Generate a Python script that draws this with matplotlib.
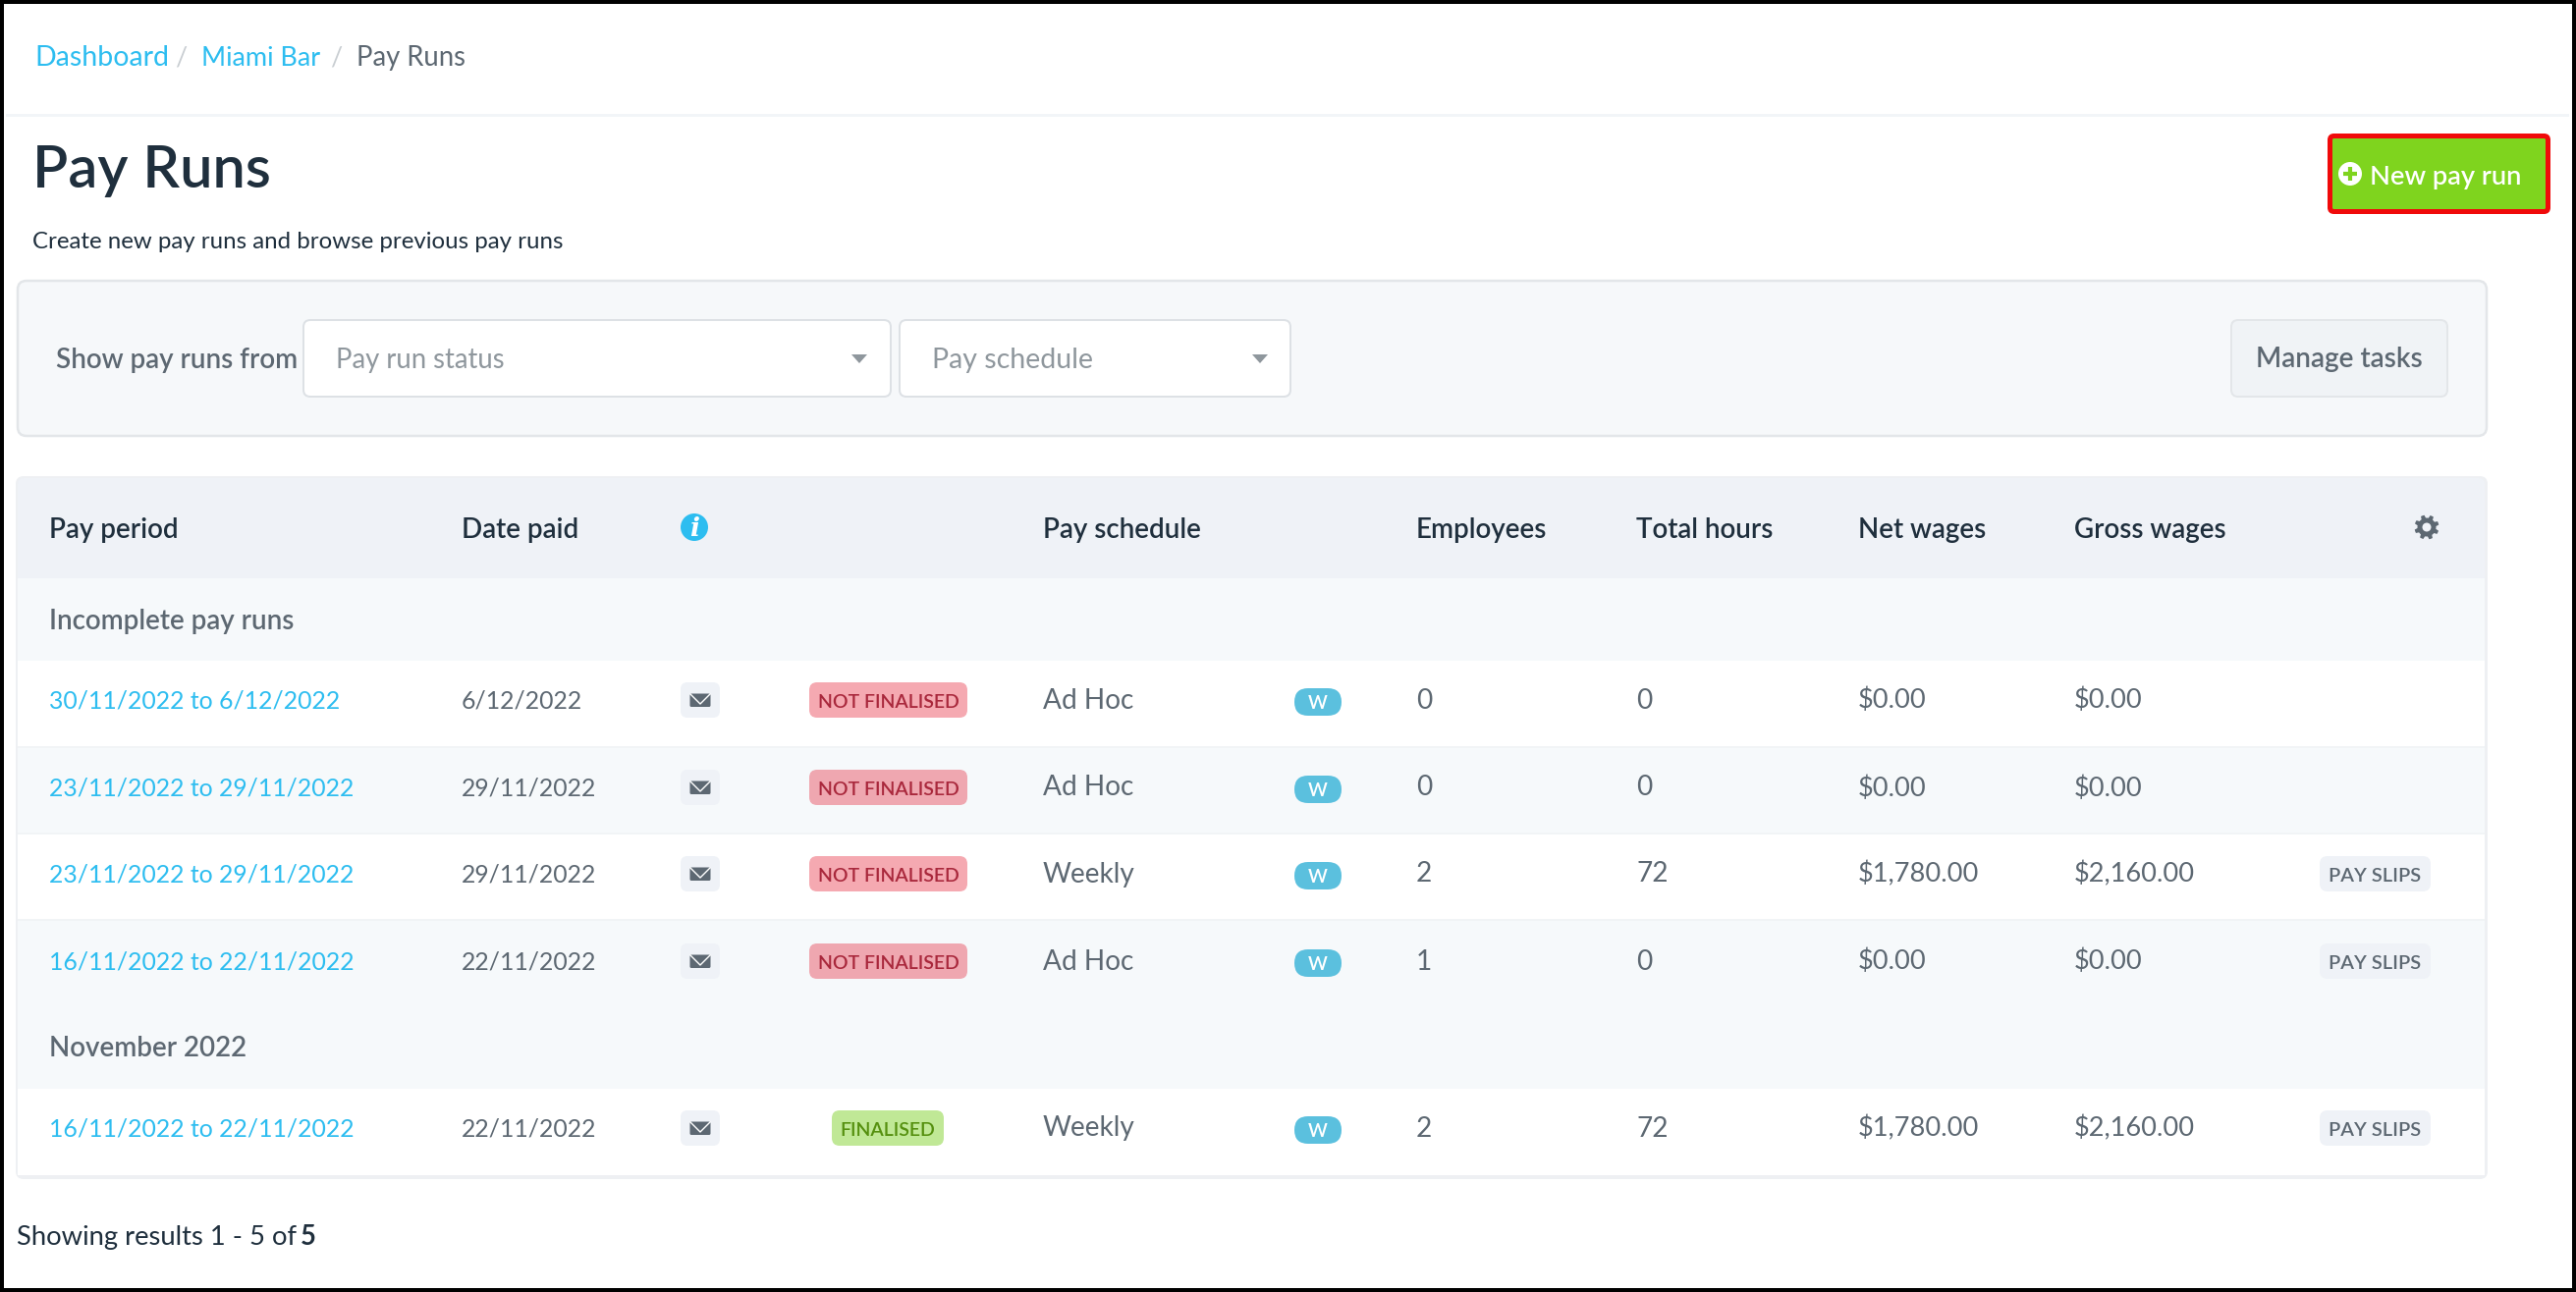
# -*- coding: utf-8 -*-
"""Pay Runs screen redrawn in matplotlib, axes run in image pixels."""
import numpy as np
import matplotlib
matplotlib.use("Agg")
import matplotlib.pyplot as plt
from matplotlib.patches import FancyBboxPatch, Rectangle, Circle, Polygon

W, H = 2623, 1316

# --- table content ---
HEADERS = ["Pay period", "Date paid", "Pay schedule", "Employees", "Total hours", "Net wages", "Gross wages"]
PERIODS = ["30/11/2022 to 6/12/2022", "23/11/2022 to 29/11/2022", "23/11/2022 to 29/11/2022",
           "16/11/2022 to 22/11/2022", "16/11/2022 to 22/11/2022"]
DATES = ["6/12/2022", "29/11/2022", "29/11/2022", "22/11/2022", "22/11/2022"]
STATUS = ["NOT FINALISED", "NOT FINALISED", "NOT FINALISED", "NOT FINALISED", "FINALISED"]
SCHEDULES = ["Ad Hoc", "Ad Hoc", "Weekly", "Ad Hoc", "Weekly"]
EMPLOYEES = ["0", "0", "2", "1", "2"]
HOURS = ["0", "0", "72", "0", "72"]
NET = ["$0.00", "$0.00", "$1,780.00", "$0.00", "$1,780.00"]
GROSS = ["$0.00", "$0.00", "$2,160.00", "$0.00", "$2,160.00"]
SLIPS = [False, False, True, True, True]
SECTIONS = ["Incomplete pay runs", "November 2022"]

# --- palette ---
LINK = "#2dbdf0"
GREY = "#5d6872"
DARK = "#1f2f3d"
PALE = "#8f979d"
HEAD_BG = "#eff2f7"
TINT = "#f6f9fb"
EDGE = "#e3e6e9"

plt.rcParams["font.family"] = ["Lato", "DejaVu Sans"]

fig = plt.figure(figsize=(W / 100, H / 100), dpi=100, facecolor="black")
ax = fig.add_axes([0, 0, 1, 1])
ax.set_xlim(0, W)
ax.set_ylim(H, 0)
ax.axis("off")


def label(x, y, s, px, color=GREY, weight="normal", ha="left", **kw):
    # y is the baseline, px the font size in pixels
    ax.text(x, y, s, fontsize=px * 0.72, color=color, fontweight=weight, ha=ha, va="baseline", **kw)


def rect(x0, y0, x1, y1, color):
    ax.add_patch(Rectangle((x0, y0), x1 - x0, y1 - y0, facecolor=color, edgecolor="none"))


def rbox(x0, y0, x1, y1, r, color, edge="none", lw=0):
    ax.add_patch(FancyBboxPatch((x0, y0), x1 - x0, y1 - y0,
                                boxstyle=f"round,pad=0,rounding_size={r}",
                                facecolor=color, edgecolor=edge, linewidth=lw * 0.72))


def caret(x, y):
    ax.add_patch(Polygon([(x - 8, y - 4), (x + 8, y - 4), (x, y + 5)], facecolor=PALE, edgecolor="none"))


def envelope(cx, cy):
    rbox(cx - 20, cy - 18, cx + 20, cy + 18, 7, HEAD_BG)
    rbox(cx - 10.5, cy - 6.5, cx + 10.5, cy + 7, 1.5, GREY)
    ax.plot([cx - 10, cx, cx + 10], [cy - 6, cy + 4, cy - 6], color="white", lw=1.0)


def gear(cx, cy, r=12.5):
    ang = np.linspace(0, 2 * np.pi, 64, endpoint=False)
    rad = np.where((np.arange(64) % 8) < 4, r, r * 0.76)
    ax.add_patch(Polygon(np.c_[cx + rad * np.sin(ang + 0.2), cy + rad * np.cos(ang + 0.2)],
                         facecolor=GREY, edgecolor="none"))
    ax.add_patch(Circle((cx, cy), r * 0.36, facecolor=HEAD_BG, edgecolor="none"))


# page frame
rect(4, 4, 2619, 1312, "white")
rect(6, 116, 2616, 119, "#f2f5f8")

# breadcrumb
label(35, 67, "Dashboard", 28.5, LINK)
label(178, 67, "/", 27, "#c9ced2")
label(205, 67, "Miami Bar", 27, LINK)
label(336, 67, "/", 27, "#c9ced2")
label(363, 67, "Pay Runs", 27.5, GREY)

# title
label(33, 191, "Pay Runs", 59.5, DARK, "semibold")
label(33, 253, "Create new pay runs and browse previous pay runs", 24, DARK)

# new pay run button
rbox(2372.5, 138.5, 2594.5, 215.5, 4, "#7fd41e", edge="#f00a0a", lw=5)
ax.add_patch(Circle((2393, 177), 12, facecolor="white", edgecolor="none"))
ax.plot([2386, 2400], [177, 177], color="#7fd41e", lw=3, solid_capstyle="butt")
ax.plot([2393, 2393], [170, 184], color="#7fd41e", lw=3, solid_capstyle="butt")
label(2413, 188, "New pay run", 27.3, "white", "semibold")

# filter panel
rbox(18, 286, 2532, 444, 9, "#f6f8fa", edge=EDGE, lw=2.5)
label(57, 375.5, "Show pay runs from", 27.7, GREY, "semibold")
rbox(309, 326, 907, 404, 7, "white", edge="#dde1e5", lw=2)
label(342, 375.5, "Pay run status", 27.5, PALE)
caret(875, 365)
rbox(916, 326, 1314, 404, 7, "white", edge="#dde1e5", lw=2)
label(949, 375.5, "Pay schedule", 28.5, PALE)
caret(1283, 365)
rbox(2272, 326, 2492, 404, 7, "#f0f3f6", edge=EDGE, lw=2)
label(2382, 374, "Manage tasks", 28, GREY, "semibold", ha="center")

# table card
rbox(16, 485, 2533, 1201, 8, "#eef0f3")
rbox(18, 487, 2530, 597, 6, HEAD_BG)
rect(18, 589, 2530, 673, TINT)
row_tops = [673, 761, 849, 937, 1109]
row_ends = [761, 849, 937, 1026, 1197]
row_fill = ["white", TINT, "white", TINT, "white"]
for top, end, col in zip(row_tops, row_ends, row_fill):
    rect(18, top, 2530, end, col)
rect(18, 1026, 2530, 1109, TINT)
rect(18, 760, 2530, 762, "#f1f4f6")
rect(18, 848, 2530, 850, "#f1f4f6")
rect(18, 936, 2530, 938, "#f1f4f6")

# table header
HEAD_X = [50, 470, 1062, 1442, 1666, 1892, 2112]
for x, s in zip(HEAD_X, HEADERS):
    label(x, 548, s, 27.8, DARK, "semibold")
ax.add_patch(Circle((707, 537), 14, facecolor=LINK, edgecolor="none"))
ax.text(707, 538, "i", fontsize=19, color="white", fontweight="bold", style="italic",
        ha="center", va="center", family="DejaVu Serif")
gear(2471, 537)

# section rows
label(50, 640.5, SECTIONS[0], 27.7, GREY, "semibold")
label(50, 1075.5, SECTIONS[1], 27.7, GREY, "semibold")

# pay run rows
ROW_Y = [713, 802, 890, 979, 1149]
for i, cy in enumerate(ROW_Y):
    base = cy + 8.5
    label(50, base, PERIODS[i], 24.8, LINK)
    label(470, base, DATES[i], 24.8, GREY)
    envelope(713, cy)
    if STATUS[i] == "FINALISED":
        rbox(847, cy - 18, 961, cy + 18, 8, "#c0e896")
        label(904, cy + 8, STATUS[i], 19.5, "#55900f", "semibold", ha="center")
    else:
        rbox(824, cy - 18, 985, cy + 18, 8, "#f5a9b1" if row_fill[i] == "white" else "#efa7b0")
        label(904.5, cy + 8, STATUS[i], 19.5, "#a9283c", "semibold", ha="center")
    label(1062, base, SCHEDULES[i], 28, GREY)
    rbox(1318, cy - 12, 1366, cy + 16, 14, "#5bc0de")
    label(1342, cy + 9, "W", 19, "white", "semibold", ha="center")
    label(1442, base, EMPLOYEES[i], 28, GREY)
    label(1666, base, HOURS[i], 28, GREY)
    label(1892, base, NET[i], 27.3, GREY)
    label(2112, base, GROSS[i], 27.3, GREY)
    if SLIPS[i]:
        rbox(2362, cy - 18, 2475, cy + 18, 8, HEAD_BG)
        label(2418.5, cy + 8, "PAY SLIPS", 20, GREY, "semibold", ha="center")

# footer
label(17, 1268, "Showing results 1 - 5 of ", 27.4, DARK)
label(306, 1268, "5", 27.5, DARK, "bold")

fig.savefig("out.png", facecolor="black")
